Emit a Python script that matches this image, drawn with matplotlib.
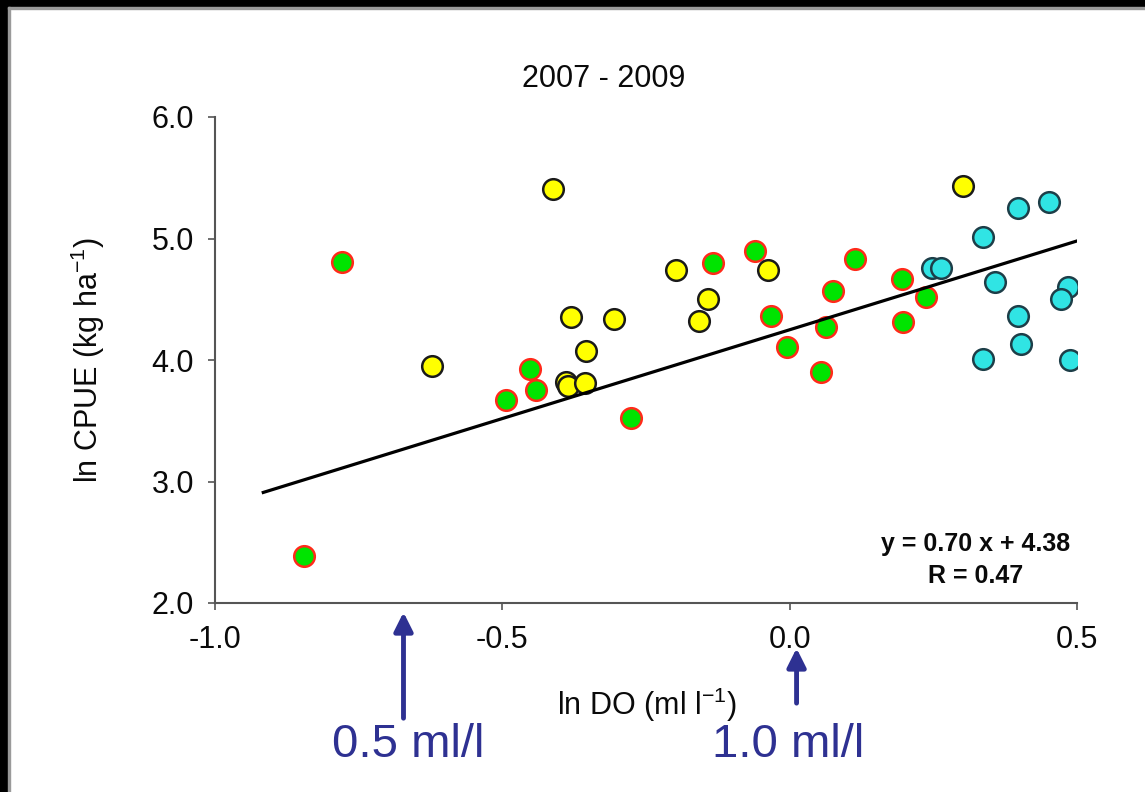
import matplotlib
matplotlib.use('Agg')
import matplotlib.pyplot as plt
from matplotlib.patches import Rectangle
from matplotlib.transforms import blended_transform_factory

plt.rcParams['font.family'] = ['Liberation Sans', 'DejaVu Sans']
plt.rcParams['mathtext.fontset'] = 'custom'
plt.rcParams['mathtext.rm'] = 'Liberation Sans'

# ln DO vs ln CPUE, three groups of stations
green_x = [-0.779, -0.845, -0.452, -0.441, -0.493, -0.276, -0.133, -0.060, -0.033,
           -0.004, 0.055, 0.063, 0.075, 0.113, 0.195, 0.197, 0.237]
green_y = [4.81, 2.39, 3.93, 3.75, 3.67, 3.52, 4.80, 4.90, 4.36,
           4.11, 3.90, 4.27, 4.57, 4.83, 4.67, 4.31, 4.52]

yellow_x = [-0.411, -0.622, -0.380, -0.354, -0.390, -0.385, -0.357, -0.305,
            -0.198, -0.142, -0.157, -0.038, 0.302]
yellow_y = [5.41, 3.95, 4.35, 4.07, 3.82, 3.79, 3.81, 4.34,
            4.74, 4.50, 4.32, 4.74, 5.43]

cyan_x = [0.247, 0.264, 0.336, 0.398, 0.452, 0.358, 0.484, 0.472, 0.398, 0.402, 0.336, 0.487]
cyan_y = [4.76, 4.76, 5.01, 5.25, 5.30, 4.64, 4.60, 4.50, 4.36, 4.13, 4.01, 4.00]

# regression line end points
fit_x = [-0.916, 0.507]
fit_y = [2.91, 4.99]

x_ticks = [-1.0, -0.5, 0.0, 0.5]
y_ticks = [2.0, 3.0, 4.0, 5.0, 6.0]

# DO thresholds marked under the axis (ln 0.5, ln 1.0)
marks_x = [-0.672, 0.012]
marks_text = ['0.5 ml/l', '1.0 ml/l']

fig = plt.figure(figsize=(11.45, 7.92), dpi=100)
fig.patch.set_facecolor('white')

# dark frame along the top and left edges
fig.patches.append(Rectangle((0, 1 - 7 / 792), 1, 7 / 792, transform=fig.transFigure,
                             color='black', zorder=0))
fig.patches.append(Rectangle((0, 0), 8 / 1145, 1, transform=fig.transFigure,
                             color='black', zorder=0))
fig.patches.append(Rectangle((8 / 1145, 0), 2 / 1145, 1 - 7 / 792, transform=fig.transFigure,
                             color='#9a9a9a', zorder=0))
fig.patches.append(Rectangle((8 / 1145, 1 - 9 / 792), 1, 2 / 792, transform=fig.transFigure,
                             color='#9a9a9a', zorder=0))

ax = fig.add_axes([215 / 1145, 189 / 792, 862 / 1145, 486 / 792])

ms = 220
ax.scatter(green_x, green_y, s=ms, c='#00e400', edgecolors='#ff2a1a', linewidths=1.8, zorder=3)
ax.scatter(yellow_x, yellow_y, s=ms, c='#ffff00', edgecolors='#1a1a1a', linewidths=1.8, zorder=3)
ax.scatter(cyan_x, cyan_y, s=ms, c='#30e4e4', edgecolors='#1d3e48', linewidths=1.8, zorder=3)
ax.plot(fit_x, fit_y, color='black', lw=2.3, zorder=4)

ax.set_xlim(-1.0, 0.5)
ax.set_ylim(2.0, 6.0)
ax.set_xticks(x_ticks)
ax.set_yticks(y_ticks)
ax.set_xticklabels(['%.1f' % v for v in x_ticks])
ax.set_yticklabels(['%.1f' % v for v in y_ticks])
for s in ['top', 'right']:
    ax.spines[s].set_visible(False)
for s in ['left', 'bottom']:
    ax.spines[s].set_color('#555555')
    ax.spines[s].set_linewidth(1.5)
ax.tick_params(axis='both', direction='out', length=5, width=1.2, color='#555555',
               labelsize=22, labelcolor='#0a0a0a')
ax.tick_params(axis='x', pad=11)
ax.tick_params(axis='y', pad=10)

fig.text(604 / 1145, 1 - 79 / 792, '2007 - 2009', ha='center', va='center', fontsize=22,
         color='#0a0a0a')
fig.text(88 / 1145, 1 - 360 / 792, r'ln CPUE (kg ha$^{\mathrm{-1}}$)', ha='center', va='center',
         rotation=90, fontsize=22, color='#0a0a0a')
fig.text(647 / 1145, 1 - 705 / 792, r'ln DO (ml l$^{\mathrm{-1}}$)', ha='center', va='center',
         fontsize=22, color='#0a0a0a')

fig.text(976 / 1145, 1 - 544 / 792, 'y = 0.70 x + 4.38', ha='center', va='center',
         fontsize=18, fontweight='bold', color='#0a0a0a')
fig.text(976 / 1145, 1 - 576 / 792, 'R = 0.47', ha='center', va='center',
         fontsize=18, fontweight='bold', color='#0a0a0a')

# arrows and labels below the x axis
trans = blended_transform_factory(ax.transData, ax.transAxes)
arrow_tip = [-0.019, -0.093]
arrow_tail = [-0.237, -0.206]
for mx, tip, tail, txt, tx in zip(marks_x, arrow_tip, arrow_tail, marks_text, [408, 788]):
    ax.annotate('', xy=(mx, tip), xytext=(mx, tail), xycoords=trans, textcoords=trans,
                arrowprops=dict(arrowstyle='-|>', color='#2e3192', lw=3.5,
                                mutation_scale=28, shrinkA=0, shrinkB=0),
                annotation_clip=False)
    fig.text(tx / 1145, 1 - 745 / 792, txt, ha='center', va='center', fontsize=34,
             color='#2e3192')

fig.savefig('out.png', dpi=100, facecolor='white')
